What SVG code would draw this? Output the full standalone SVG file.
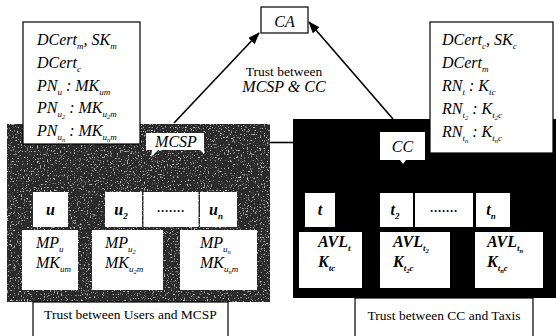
<svg xmlns="http://www.w3.org/2000/svg" width="556" height="336" viewBox="0 0 556 336">
<style>
.i{font-family:"Liberation Serif","Times New Roman",serif;font-style:italic;font-size:16px;fill:#000}
.r{font-family:"Liberation Serif","Times New Roman",serif;font-size:13.5px;fill:#000}
.s{font-size:9px}
.ss{font-size:6.5px}
.box{fill:#fff;stroke:#000;stroke-width:1.2}
.wb{fill:#fff;stroke:none}
.conn{stroke:#000;stroke-width:1.6;fill:none}
</style>
<defs>
<marker id="ah" markerUnits="userSpaceOnUse" markerWidth="12" markerHeight="9" refX="11" refY="4.5" orient="auto">
<path d="M0,0 L12,4.5 L0,9 Z" fill="#000"/>
</marker>
<filter id="speckle" x="0" y="0" width="100%" height="100%">
<feTurbulence type="fractalNoise" baseFrequency="0.7" numOctaves="2" seed="7" result="n"/>
<feColorMatrix in="n" type="matrix" values="0 0 0 0 0.6  0 0 0 0 0.6  0 0 0 0 0.6  0 0 0 6 -3.7" result="spots"/>
<feComposite in="spots" in2="SourceGraphic" operator="in" result="s2"/>
<feMerge><feMergeNode in="SourceGraphic"/><feMergeNode in="s2"/></feMerge>
</filter>
</defs>
<rect width="556" height="336" fill="#fff"/>

<!-- MCSP domain panel -->
<g id="panel-mcsp">
<rect x="7" y="124" width="263" height="178" fill="#2a2a2a" filter="url(#speckle)"/>
</g>
<!-- CC domain panel -->
<g id="panel-cc">
<rect x="293" y="119" width="263" height="179" fill="#000"/>
</g>

<g id="connectors">
<line class="conn" x1="174" y1="123" x2="259" y2="33" marker-end="url(#ah)"/>
<line class="conn" x1="393" y1="119" x2="309" y2="22" marker-end="url(#ah)"/>
<line class="conn" x1="270" y1="142.5" x2="293" y2="142.5"/>
</g>

<g id="node-CA">
<rect class="box" x="261" y="7" width="47" height="26"/>
<text class="i" x="284.5" y="27" text-anchor="middle">CA</text>
</g>

<g id="label-mcsp-cc">
<text class="r" x="284" y="76" text-anchor="middle" font-size="12.5">Trust between</text>
<text class="i" x="284" y="92" text-anchor="middle" font-size="14.5">MCSP &amp; CC</text>
</g>

<g id="node-MCSP-keys">
<rect class="box" x="23" y="22" width="117" height="122"/>
<text class="i" x="37" y="45">DCert<tspan class="s" dy="4">m</tspan><tspan dy="-4">, SK</tspan><tspan class="s" dy="4">m</tspan></text>
<text class="i" x="37" y="68">DCert<tspan class="s" dy="4">c</tspan></text>
<text class="i" x="37" y="91">PN<tspan class="s" dy="4">u</tspan><tspan dy="-4"> : MK</tspan><tspan class="s" dy="4">um</tspan></text>
<text class="i" x="37" y="113">PN<tspan class="s" dy="4">u</tspan><tspan class="ss" dy="2">2</tspan><tspan dy="-6"> : MK</tspan><tspan class="s" dy="4">u</tspan><tspan class="ss" dy="2">2</tspan><tspan class="s" dy="-2">m</tspan></text>
<text class="i" x="37" y="136">PN<tspan class="s" dy="4">u</tspan><tspan class="ss" dy="2">n</tspan><tspan dy="-6"> : MK</tspan><tspan class="s" dy="4">u</tspan><tspan class="ss" dy="2">n</tspan><tspan class="s" dy="-2">m</tspan></text>
</g>

<g id="node-CC-keys">
<rect class="box" x="430" y="22" width="123" height="131"/>
<text class="i" x="442" y="45">DCert<tspan class="s" dy="4">c</tspan><tspan dy="-4">, SK</tspan><tspan class="s" dy="4">c</tspan></text>
<text class="i" x="442" y="68">DCert<tspan class="s" dy="4">m</tspan></text>
<text class="i" x="442" y="91">RN<tspan class="s" dy="4">t</tspan><tspan dy="-4"> : K</tspan><tspan class="s" dy="4">tc</tspan></text>
<text class="i" x="442" y="114">RN<tspan class="s" dy="4">t</tspan><tspan class="ss" dy="2">2</tspan><tspan dy="-6"> : K</tspan><tspan class="s" dy="4">t</tspan><tspan class="ss" dy="2">2</tspan><tspan class="s" dy="-2">c</tspan></text>
<text class="i" x="442" y="137">RN<tspan class="s" dy="4">t</tspan><tspan class="ss" dy="2">n</tspan><tspan dy="-6"> : K</tspan><tspan class="s" dy="4">t</tspan><tspan class="ss" dy="2">n</tspan><tspan class="s" dy="-2">c</tspan></text>
</g>

<g id="node-MCSP">
<path class="wb" d="M146,133 H204 V154 L200,150 H158 L151,157 L152,150 H146 Z"/>
<text class="i" x="176" y="147" text-anchor="middle" font-size="15">MCSP</text>
</g>

<g id="node-CC">
<path class="wb" d="M380,132 H425 V160 H406 L403,164 L400,160 H380 Z"/>
<text class="i" x="402.5" y="152" text-anchor="middle" font-size="17">CC</text>
</g>

<!-- users row -->
<g id="node-u1">
<rect class="wb" x="33" y="192" width="35" height="35"/>
<text class="i" x="50.5" y="215" text-anchor="middle" font-weight="bold">u</text>
</g>
<g id="node-u2">
<rect class="wb" x="105" y="192" width="37" height="35"/>
<text class="i" x="121" y="215" text-anchor="middle" font-weight="bold">u<tspan class="s" dy="4">2</tspan></text>
</g>
<g id="node-udots">
<rect class="wb" x="143.5" y="192" width="55" height="35"/>
<text class="i" x="171" y="212" text-anchor="middle" font-size="12">.......</text>
</g>
<g id="node-un">
<rect class="wb" x="200" y="192" width="37" height="35"/>
<text class="i" x="216" y="215" text-anchor="middle" font-weight="bold">u<tspan class="s" dy="4">n</tspan></text>
</g>

<g id="node-mp1">
<rect class="wb" x="22" y="230" width="56" height="60"/>
<text class="i" x="36" y="248">MP<tspan class="s" dy="4">u</tspan></text>
<text class="i" x="36" y="268">MK<tspan class="s" dy="4">um</tspan></text>
</g>
<g id="node-mp2">
<rect class="wb" x="92" y="230" width="71" height="60"/>
<text class="i" x="105" y="248">MP<tspan class="s" dy="4">u</tspan><tspan class="ss" dy="2">2</tspan></text>
<text class="i" x="105" y="268">MK<tspan class="s" dy="4">u</tspan><tspan class="ss" dy="2">2</tspan><tspan class="s" dy="-2">m</tspan></text>
</g>
<g id="node-mpn">
<rect class="wb" x="180" y="230" width="77" height="60"/>
<text class="i" x="200" y="248">MP<tspan class="s" dy="4">u</tspan><tspan class="ss" dy="2">n</tspan></text>
<text class="i" x="200" y="268">MK<tspan class="s" dy="4">u</tspan><tspan class="ss" dy="2">n</tspan><tspan class="s" dy="-2">m</tspan></text>
</g>

<!-- taxis row -->
<g id="node-t1">
<rect class="wb" x="305" y="193" width="30" height="34"/>
<text class="i" x="320" y="215" text-anchor="middle" font-weight="bold">t</text>
</g>
<g id="node-t2">
<rect class="wb" x="380" y="193" width="33" height="34"/>
<text class="i" x="395" y="215" text-anchor="middle" font-weight="bold">t<tspan class="s" dy="4">2</tspan></text>
</g>
<g id="node-tdots">
<rect class="wb" x="415" y="193" width="58" height="34"/>
<text class="i" x="444" y="212" text-anchor="middle" font-size="12">.......</text>
</g>
<g id="node-tn">
<rect class="wb" x="476" y="193" width="34" height="34"/>
<text class="i" x="491" y="215" text-anchor="middle" font-weight="bold">t<tspan class="s" dy="4">n</tspan></text>
</g>

<g id="node-avl1">
<rect class="wb" x="299" y="232" width="63" height="56"/>
<text class="i" x="318" y="247" font-weight="bold" font-size="15">AVL<tspan class="s" dy="4">t</tspan></text>
<text class="i" x="318" y="267" font-weight="bold" font-size="15">K<tspan class="s" dy="4">tc</tspan></text>
</g>
<g id="node-avl2">
<rect class="wb" x="380" y="232" width="70" height="56"/>
<text class="i" x="393" y="247" font-weight="bold" font-size="15">AVL<tspan class="s" dy="4">t</tspan><tspan class="ss" dy="2">2</tspan></text>
<text class="i" x="393" y="267" font-weight="bold" font-size="15">K<tspan class="s" dy="4">t</tspan><tspan class="ss" dy="2">2</tspan><tspan class="s" dy="-2">c</tspan></text>
</g>
<g id="node-avln">
<rect class="wb" x="475" y="232" width="68" height="56"/>
<text class="i" x="487" y="247" font-weight="bold" font-size="15">AVL<tspan class="s" dy="4">t</tspan><tspan class="ss" dy="2">n</tspan></text>
<text class="i" x="487" y="267" font-weight="bold" font-size="15">K<tspan class="s" dy="4">t</tspan><tspan class="ss" dy="2">n</tspan><tspan class="s" dy="-2">c</tspan></text>
</g>

<g id="label-users-mcsp">
<rect class="box" x="33" y="302" width="195" height="40"/>
<text class="r" x="130.5" y="319" text-anchor="middle">Trust between Users and MCSP</text>
</g>
<g id="label-cc-taxis">
<rect class="box" x="355" y="298" width="178" height="44"/>
<text class="r" x="444" y="320" text-anchor="middle">Trust between CC and Taxis</text>
</g>
</svg>
